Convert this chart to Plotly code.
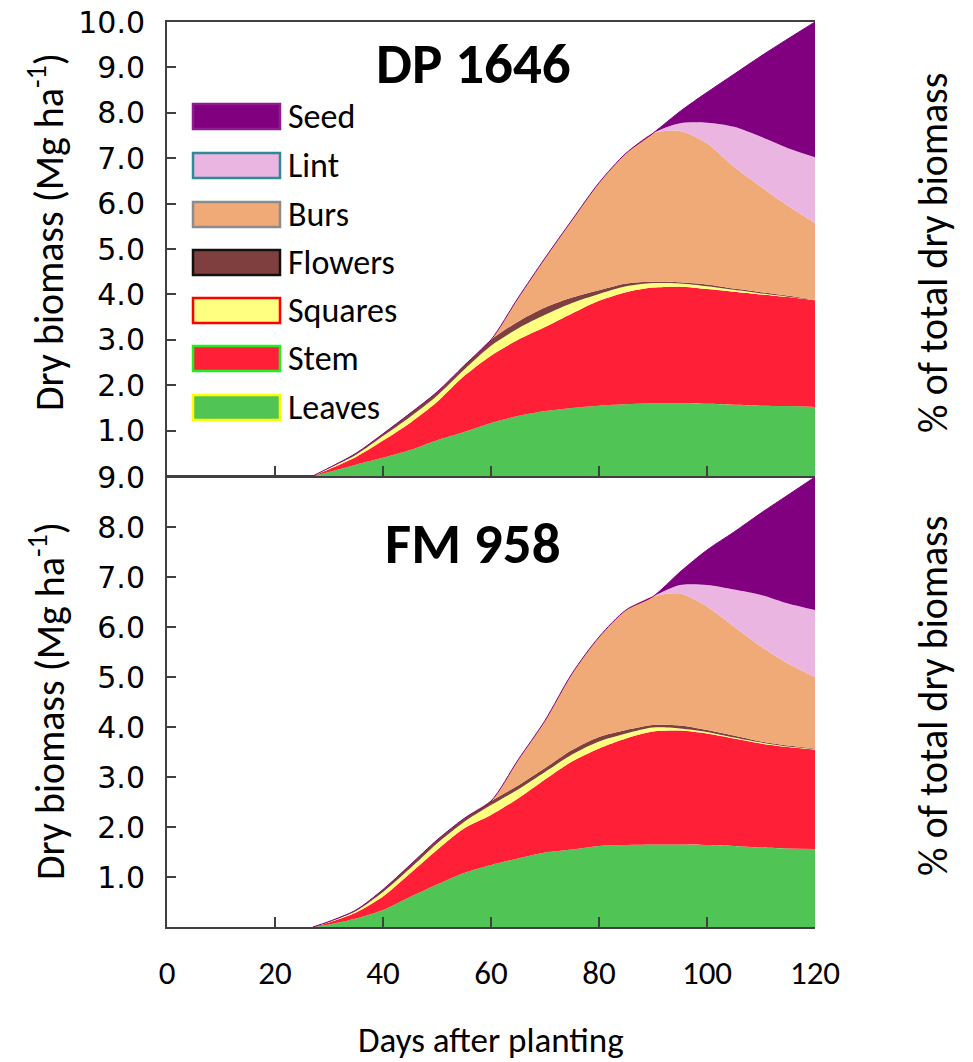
import plotly.graph_objects as go

# ---------------- data ----------------
days = [27, 30, 35, 40, 45, 50, 55, 60, 65, 70, 75, 80, 85, 90, 95, 100, 105, 110, 115, 120]

# DP 1646 (Mg/ha per component)
dp_leaves  = [0, .09, .25, .40, .57, .79, .97, 1.17, 1.32, 1.43, 1.50, 1.55, 1.58, 1.60, 1.60, 1.59, 1.57, 1.55, 1.54, 1.52]
dp_stem    = [0, .06, .17, .38, .60, .84, 1.23, 1.48, 1.68, 1.85, 2.08, 2.31, 2.47, 2.55, 2.57, 2.53, 2.49, 2.45, 2.40, 2.35]
dp_squares = [0, .02, .05, .10, .13, .14, .14, .22, .25, .27, .23, .15, .13, .10, .07, .06, .04, .02, .01, .01]
dp_flowers = [0, .01, .03, .05, .08, .08, .09, .13, .15, .16, .12, .08, .06, .03, .03, .04, .03, .03, .02, .01]
dp_burs    = [0, 0, 0, 0, 0, 0, 0, 0, .52, 1.09, 1.71, 2.37, 2.87, 3.27, 3.33, 3.11, 2.68, 2.32, 1.98, 1.68]
dp_lint    = [0, 0, 0, 0, 0, 0, 0, 0, 0, 0, 0, 0, 0, 0, .17, .45, .88, 1.10, 1.27, 1.45]
dp_seed    = [0, 0, 0, 0, 0, 0, 0, 0, 0, 0, 0, 0, 0, 0, .26, .67, 1.16, 1.78, 2.41, 2.98]

# FM 958
fm_leaves  = [0, .05, .17, .34, .60, .85, 1.08, 1.24, 1.37, 1.49, 1.55, 1.62, 1.64, 1.65, 1.65, 1.64, 1.62, 1.59, 1.57, 1.56]
fm_stem    = [0, .04, .12, .27, .47, .69, .89, 1.00, 1.20, 1.46, 1.76, 1.95, 2.13, 2.26, 2.28, 2.23, 2.15, 2.08, 2.03, 1.99]
fm_squares = [0, .01, .03, .09, .10, .13, .13, .20, .18, .15, .14, .14, .10, .08, .04, .03, .02, .02, .01, .01]
fm_flowers = [0, .01, .02, .05, .07, .07, .07, .08, .08, .08, .09, .09, .07, .05, .06, .04, .04, .02, .02, .01]
fm_burs    = [0, 0, 0, 0, 0, 0, 0, 0, .51, .95, 1.53, 2.00, 2.40, 2.57, 2.64, 2.47, 2.18, 1.90, 1.64, 1.43]
fm_lint    = [0, 0, 0, 0, 0, 0, 0, 0, 0, 0, 0, 0, 0, 0, .17, .43, .74, 1.03, 1.20, 1.34]
fm_seed    = [0, 0, 0, 0, 0, 0, 0, 0, 0, 0, 0, 0, 0, 0, .26, .70, 1.15, 1.64, 2.17, 2.66]

components = ["Leaves", "Stem", "Squares", "Flowers", "Burs", "Lint", "Seed"]
legend_order = ["Seed", "Lint", "Burs", "Flowers", "Squares", "Stem", "Leaves"]

x_ticks = [0, 20, 40, 60, 80, 100, 120]
top_left_ticks = [1, 2, 3, 4, 5, 6, 7, 8, 9, 10]
bot_left_ticks = [1, 2, 3, 4, 5, 6, 7, 8, 9]
right_ticks = [20, 40, 60, 80, 100]

# ---------------- styles ----------------
fill_colors = {"Seed": "#800080", "Lint": "#EBB5E1", "Burs": "#F0AA78", "Flowers": "#7F3F3F",
               "Squares": "#FFFF80", "Stem": "#FF2038", "Leaves": "#50C455"}
border_colors = {"Seed": "#8E1C8E", "Lint": "#2E8A96", "Burs": "#8C8C8C", "Flowers": "#111111",
                 "Squares": "#FF0000", "Stem": "#22EE22", "Leaves": "#FFFF00"}

CAL = "Carlito, Lato, sans-serif"
TICKF = "DejaVu Sans"
AX = "#404040"

W, H = 973, 1062
L, R, T, B = 167, 158, 22, 135
PW, PH = W - L - R, H - T - B

def py(p):  # pixel y -> paper y
    return (H - B - p) / PH

def px_(p):  # pixel x -> paper x
    return (p - L) / PW

fig = go.Figure()

dp = dict(zip(components, [dp_leaves, dp_stem, dp_squares, dp_flowers, dp_burs, dp_lint, dp_seed]))
fm = dict(zip(components, [fm_leaves, fm_stem, fm_squares, fm_flowers, fm_burs, fm_lint, fm_seed]))

for data, xa, ya, grp in [(dp, "x2", "y3", "top"), (fm, "x", "y", "bot")]:
    for c in components:
        lw = 1 if c == "Seed" else 0
        fig.add_trace(go.Scatter(
            x=days, y=data[c], xaxis=xa, yaxis=ya, stackgroup=grp, name=c,
            mode="lines", line=dict(width=lw, color=fill_colors[c], shape="spline", smoothing=0.8),
            fillcolor=fill_colors[c], showlegend=False, hoverinfo="skip"))

common_x = dict(range=[0, 120], tickvals=x_ticks, ticks="inside", ticklen=10, tickwidth=2,
                tickcolor=AX, showline=True, linecolor=AX, linewidth=2, mirror=True,
                showgrid=False, zeroline=False, automargin=False)
common_y = dict(ticks="inside", ticklen=9, tickwidth=2, tickcolor=AX, showline=True,
                linecolor=AX, linewidth=2, showgrid=False, zeroline=False, automargin=False,
                tickfont=dict(family=TICKF, size=30, color="#000"), ticklabelstandoff=14)

fig.update_layout(
    template="none",
    width=W, height=H, margin=dict(l=L, r=R, t=T, b=B, autoexpand=False),
    plot_bgcolor="white", paper_bgcolor="white", showlegend=False,
    xaxis=dict(**common_x, anchor="y", domain=[0, 1],
               tickfont=dict(family=CAL, size=33, color="#000"), ticklabelstandoff=15),
    xaxis2=dict(**common_x, anchor="y3", domain=[0, 1], showticklabels=False, matches="x"),
    yaxis=dict(**common_y, anchor="x", domain=[0, py(477)], range=[0, 9],
               tickvals=bot_left_ticks, ticktext=[f"{v:.1f}" for v in bot_left_ticks]),
    yaxis2=dict(**common_y, anchor="x", overlaying="y", side="right", range=[0, 100],
                tickvals=right_ticks, ticktext=[str(v) for v in right_ticks]),
    yaxis3=dict(**common_y, anchor="x2", domain=[py(476), 1], range=[0, 10],
                tickvals=top_left_ticks, ticktext=[f"{v:.1f}" for v in top_left_ticks]),
    yaxis4=dict(**common_y, anchor="x2", overlaying="y3", side="right", range=[0, 100],
                tickvals=right_ticks, ticktext=[str(v) for v in right_ticks]),
)

def note(text, xp, yp, size, angle=0, xanchor="center", bold=False):
    return dict(text=f"<b>{text}</b>" if bold else text, x=px_(xp), y=py(yp),
                xref="paper", yref="paper", xanchor=xanchor, yanchor="middle",
                textangle=angle, showarrow=False, font=dict(family=CAL, size=size, color="#000"))

ann = []
# panel titles
ann.append(note("DP 1646", 473, 63, 57, bold=True))
ann.append(note("FM 958", 473, 543, 57, bold=True))
# axis titles
for cy in (232, 701):
    ann.append(note("Dry biomass (Mg ha<sup>-1</sup>)", 47, cy, 40, angle=-90))
for cy in (253, 696):
    ann.append(note("% of total dry biomass", 933, cy, 40, angle=-90))
ann.append(note("Days after planting", 491, 1040, 35))

# manual legend
shapes = []
leg_top = [104, 153, 202, 250, 298, 346, 395]
for name, t in zip(legend_order, leg_top):
    shapes.append(dict(type="rect", xref="paper", yref="paper",
                       x0=px_(193), x1=px_(280), y0=py(t + 25), y1=py(t),
                       fillcolor=fill_colors[name], line=dict(color=border_colors[name], width=2.5)))
    ann.append(note(name, 286, t + 12.5, 34, xanchor="left"))

fig.update_layout(annotations=ann, shapes=shapes)
fig.write_html("out.html")
